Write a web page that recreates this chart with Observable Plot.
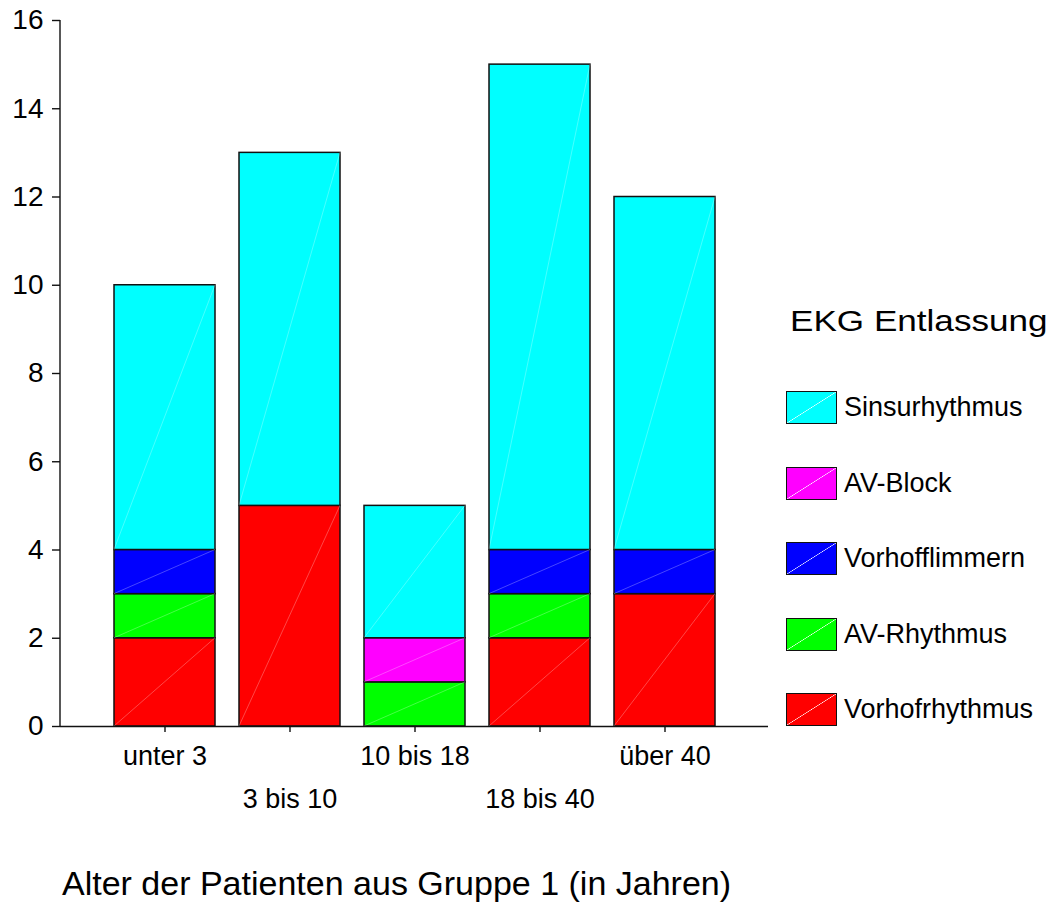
<!DOCTYPE html>
<html lang="de">
<head>
<meta charset="utf-8">
<script src="https://cdn.jsdelivr.net/npm/d3@7"></script>
<script src="https://cdn.jsdelivr.net/npm/@observablehq/plot@0.6"></script>
<style>
  html, body { margin: 0; padding: 0; background: #fff; }
  #chart {
    position: relative; width: 1064px; height: 908px; overflow: hidden;
    font-family: "Liberation Sans", Arial, sans-serif; color: #000;
  }
  #chart svg { position: absolute; left: 0; top: 0; }
  .axis-title {
    position: absolute; left: 62px; top: 866px;
    font-size: 34px; line-height: 1; white-space: nowrap;
  }
  .legend-title {
    position: absolute; left: 790px; top: 306px;
    font-size: 30px; line-height: 1; white-space: nowrap;
    transform: scaleX(1.17); transform-origin: left center;
  }
  .legend {
    position: absolute; left: 786px; top: 391px;
    display: flex; flex-direction: column; gap: 42.5px;
  }
  .legend-item { display: flex; align-items: center; height: 33px; }
  .swatch {
    box-sizing: border-box; width: 51px; height: 33px;
    border: 1.5px solid #111;
  }
  .legend-label { margin-left: 7px; font-size: 27px; line-height: 1; white-space: nowrap; }
</style>
</head>
<body>
<div id="chart"></div>
<script>
// Age groups (x axis) and ECG findings at discharge, stacked bottom to top
const categories = ["unter 3", "3 bis 10", "10 bis 18", "18 bis 40", "über 40"];
const series = ["Vorhofrhythmus", "AV-Rhythmus", "Vorhofflimmern", "AV-Block", "Sinsurhythmus"];
const colors = ["#ff0000", "#00ff00", "#0000ff", "#ff00ff", "#00ffff"];

// Patient counts per age group, one array per finding
const vorhofrhythmus = [2, 5, 0, 2, 3];
const avRhythmus     = [1, 0, 1, 1, 0];
const vorhofflimmern = [1, 0, 0, 1, 1];
const avBlock        = [0, 0, 1, 0, 0];
const sinsurhythmus  = [6, 8, 3, 11, 8];

const yTicks = [0, 2, 4, 6, 8, 10, 12, 14, 16];
const legendTitle = "EKG Entlassung";
const xTitle = "Alter der Patienten aus Gruppe 1 (in Jahren)";

const seriesValues = [vorhofrhythmus, avRhythmus, vorhofflimmern, avBlock, sinsurhythmus];

// Long table for the stacked bars (series order = stacking order)
const rows = [];
series.forEach((s, si) => {
  categories.forEach((c, ci) => {
    const v = seriesValues[si][ci];
    if (v > 0) rows.push({age: c, status: s, count: v});
  });
});

const font = '"Liberation Sans", Arial, sans-serif';

// Faint diagonal seam across every stacked segment
function diagonals(index, scales) {
  const {x, y} = scales;
  const bw = typeof x.bandwidth === "function" ? x.bandwidth() : x.bandwidth;
  const g = d3.create("svg:g")
    .attr("stroke", "#ffffff").attr("stroke-opacity", 0.35).attr("stroke-width", 0.8);
  categories.forEach((c, ci) => {
    let base = 0;
    seriesValues.forEach((vals) => {
      const v = vals[ci];
      if (v > 0) {
        g.append("line")
          .attr("x1", x(c)).attr("y1", y(base))
          .attr("x2", x(c) + bw).attr("y2", y(base + v));
      }
      base += v;
    });
  });
  return g.node();
}

// Vertical axis line spanning the y domain
function yAxisLine(index, scales, values, dims) {
  const {y} = scales;
  return d3.create("svg:line")
    .attr("x1", dims.marginLeft).attr("x2", dims.marginLeft)
    .attr("y1", y(yTicks[yTicks.length - 1])).attr("y2", y(yTicks[0]))
    .attr("stroke", "#111").attr("stroke-width", 1.4)
    .node();
}

const chart = Plot.plot({
  width: 780,
  height: 830,
  marginLeft: 60,
  marginRight: 12,
  marginTop: 20,
  marginBottom: 104,
  style: {fontFamily: font, color: "#000", background: "transparent", overflow: "visible"},
  x: {domain: categories, range: [100.5, 728.5], paddingInner: 0.195, paddingOuter: 0.1},
  y: {domain: [0, 16]},
  color: {domain: series, range: colors},
  marks: [
    Plot.barY(rows, {x: "age", y: "count", fill: "status", stroke: "#111", strokeWidth: 1.5}),
    diagonals,
    Plot.ruleY([0], {stroke: "#111", strokeWidth: 1.4}),
    yAxisLine,
    Plot.axisY({ticks: yTicks, tickSize: 8, tickPadding: 9, fontSize: 28, stroke: "#111",
                strokeWidth: 1.4, tickFormat: d => String(d), label: null}),
    Plot.axisX({tickSize: 6, tickFormat: () => "", stroke: "#111", strokeWidth: 1.4, label: null}),
    Plot.axisX(categories.filter((d, i) => i % 2 === 0),
               {tickSize: 0, tickPadding: 19, fontSize: 27, label: null}),
    Plot.axisX(categories.filter((d, i) => i % 2 === 1),
               {tickSize: 0, tickPadding: 62, fontSize: 27, label: null})
  ]
});

const root = document.getElementById("chart");
root.appendChild(chart);

const title = document.createElement("div");
title.className = "axis-title";
title.textContent = xTitle;
root.appendChild(title);

const lt = document.createElement("div");
lt.className = "legend-title";
lt.textContent = legendTitle;
root.appendChild(lt);

const legend = document.createElement("div");
legend.className = "legend";
series.map((s, i) => ({s, c: colors[i]})).reverse().forEach(({s, c}) => {
  const item = document.createElement("div");
  item.className = "legend-item";
  const sw = document.createElement("div");
  sw.className = "swatch";
  sw.style.background = `linear-gradient(to bottom right, ${c} calc(50% - 0.6px), rgba(255,255,255,0.5) 50%, ${c} calc(50% + 0.6px))`;
  const lab = document.createElement("span");
  lab.className = "legend-label";
  lab.textContent = s;
  item.appendChild(sw);
  item.appendChild(lab);
  legend.appendChild(item);
});
root.appendChild(legend);
</script>
</body>
</html>
